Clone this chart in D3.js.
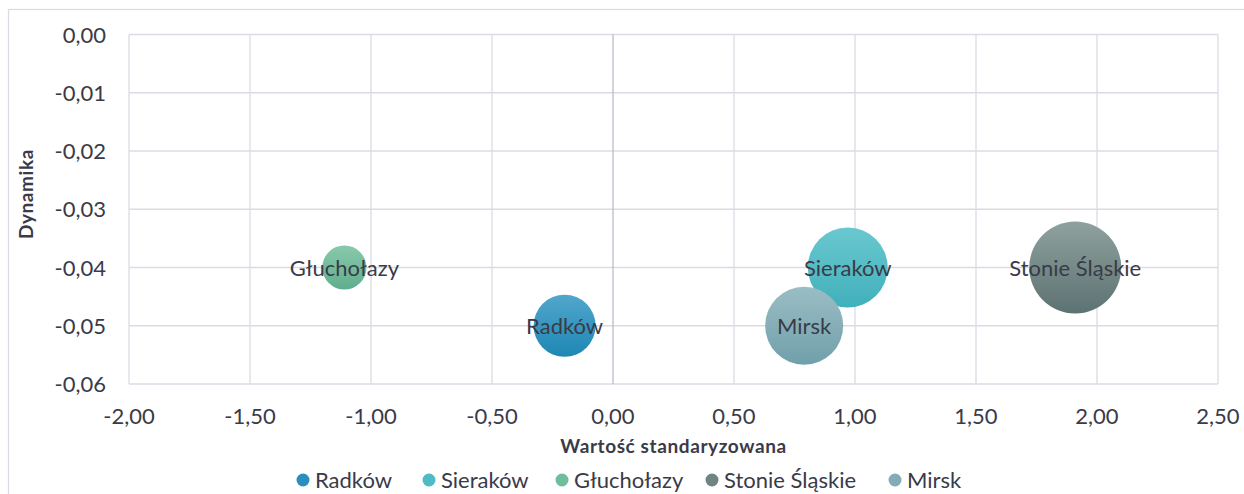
<html>
<head>
    <meta charset="utf-8">
    <title>Wartość standaryzowana / Dynamika</title>
    <script src="https://d3js.org/d3.v7.min.js"></script>
    <style>
        body {
            margin: 0;
            background: #fff;
        }
        svg {
            font-family: Lato, "Open Sans", sans-serif;
        }
        .grid line {
            stroke: #dcdae4;
            stroke-width: 1.3;
        }
        .tick-label {
            font-size: 22px;
            fill: #3a3a48;
        }
        .axis-title {
            font-size: 19px;
            font-weight: bold;
            letter-spacing: 0.6px;
            fill: #3a3a48;
        }
        .bubble-label {
            font-size: 22px;
            fill: #3a3a48;
        }
        .legend text {
            font-size: 22px;
            fill: #3a3a48;
        }
    </style>
</head>
<body>
<div id="chart"></div>
<script>
    // data
    var names = ["Radków", "Sieraków", "Głuchołazy", "Stonie Śląskie", "Mirsk"];
    var xValues = [-0.20, 0.97, -1.11, 1.91, 0.79];
    var yValues = [-0.05, -0.04, -0.04, -0.04, -0.05];
    var sizes = [9.1, 15.1, 4.6, 20.0, 14.4];
    var xTicks = [-2, -1.5, -1, -0.5, 0, 0.5, 1, 1.5, 2, 2.5];
    var yTicks = [0, -0.01, -0.02, -0.03, -0.04, -0.05, -0.06];
    var colorsTop = ["#52a6cc", "#6ac8cf", "#88c9ac", "#8ea19e", "#9bbdc4"];
    var colorsBottom = ["#1d87b3", "#40b0bb", "#5fae8d", "#5d7272", "#70a0aa"];
    var legendColors = ["#2a8fbc", "#4dbcc4", "#6fbd9b", "#6f8483", "#84acb5"];

    var width = 1244, height = 494;
    var plotLeft = 129, plotRight = 1218, plotTop = 34.5, plotBottom = 384;
    var fmt = function(v) { return d3.format(".2f")(v).replace(".", ",").replace("−", "-"); };

    var svg = d3.select("#chart").append("svg")
        .attr("width", width)
        .attr("height", height);

    // chart border
    svg.append("rect")
        .attr("x", 8.5).attr("y", 9.5)
        .attr("width", width + 10).attr("height", height + 10)
        .attr("fill", "#fff")
        .attr("stroke", "#dcdae4")
        .attr("stroke-width", 1.3);

    /* Scales */
    var xScale = d3.scaleLinear().domain([-2, 2.5]).range([plotLeft, plotRight]);
    var yScale = d3.scaleLinear().domain([-0.06, 0]).range([plotBottom, plotTop]);
    var rScale = d3.scaleSqrt().domain([0, 20]).range([0, 46]);

    /* Grid */
    var grid = svg.append("g").attr("class", "grid");
    grid.selectAll(".h")
        .data(yTicks).enter()
        .append("line")
        .attr("x1", plotLeft).attr("x2", plotRight)
        .attr("y1", d => yScale(d)).attr("y2", d => yScale(d));
    grid.selectAll(".v")
        .data(xTicks).enter()
        .append("line")
        .attr("x1", d => xScale(d)).attr("x2", d => xScale(d))
        .attr("y1", plotTop).attr("y2", plotBottom)
        .style("stroke", d => d === 0 ? "#bdbbca" : null);

    /* Tick labels */
    svg.selectAll(".ylab")
        .data(yTicks).enter()
        .append("text")
        .attr("class", "tick-label")
        .attr("x", 106)
        .attr("y", d => yScale(d) + 8)
        .attr("text-anchor", "end")
        .text(fmt);
    svg.selectAll(".xlab")
        .data(xTicks).enter()
        .append("text")
        .attr("class", "tick-label")
        .attr("x", d => xScale(d))
        .attr("y", 424)
        .attr("text-anchor", "middle")
        .text(fmt);

    /* Axis titles */
    svg.append("text")
        .attr("class", "axis-title")
        .attr("x", (plotLeft + plotRight) / 2)
        .attr("y", 453)
        .attr("text-anchor", "middle")
        .text("Wartość standaryzowana");
    svg.append("text")
        .attr("class", "axis-title")
        .attr("transform", "translate(33,194) rotate(-90)")
        .attr("text-anchor", "middle")
        .text("Dynamika");

    /* Gradients */
    var defs = svg.append("defs");
    names.forEach(function(n, i) {
        var g = defs.append("linearGradient")
            .attr("id", "grad" + i)
            .attr("x1", 0).attr("y1", 0).attr("x2", 0).attr("y2", 1);
        g.append("stop").attr("offset", "0%").attr("stop-color", colorsTop[i]);
        g.append("stop").attr("offset", "100%").attr("stop-color", colorsBottom[i]);
    });

    /* Bubbles */
    var data = names.map(function(n, i) {
        return { name: n, x: xValues[i], y: yValues[i], size: sizes[i], i: i };
    });
    svg.append("g").selectAll("circle")
        .data(data).enter()
        .append("circle")
        .attr("cx", d => xScale(d.x))
        .attr("cy", d => yScale(d.y))
        .attr("r", d => rScale(d.size))
        .attr("fill", d => "url(#grad" + d.i + ")");
    svg.append("g").selectAll("text")
        .data(data).enter()
        .append("text")
        .attr("class", "bubble-label")
        .attr("x", d => xScale(d.x))
        .attr("y", d => yScale(d.y) + 8)
        .attr("text-anchor", "middle")
        .text(d => d.name);

    /* Legend */
    var legendX = [303, 429, 562, 712, 895];
    var legend = svg.append("g").attr("class", "legend");
    var items = legend.selectAll("g")
        .data(data).enter()
        .append("g")
        .attr("transform", (d, i) => "translate(" + legendX[i] + ",480)");
    items.append("circle")
        .attr("r", 6.5)
        .attr("fill", d => legendColors[d.i]);
    items.append("text")
        .attr("x", 12)
        .attr("y", 8)
        .text(d => d.name);
</script>
</body>
</html>
